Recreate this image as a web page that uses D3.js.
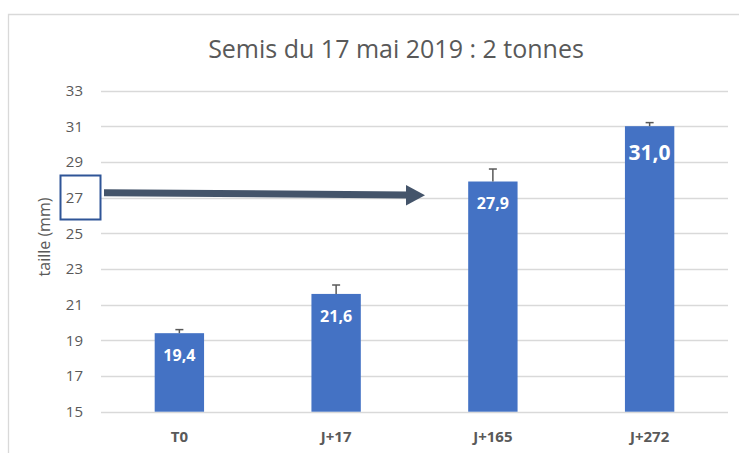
<!DOCTYPE html>
<html>
<head>
<meta charset="utf-8">
<script src="https://cdn.jsdelivr.net/npm/d3@7"></script>
<style>
  body { margin: 0; background: #fff; }
  text { font-family: "Open Sans", sans-serif; }
</style>
</head>
<body>
<script>
// Semis du 17 mai 2019 : 2 tonnes - bar chart with error bars

const categories = ["T0", "J+17", "J+165", "J+272"];
const tailles = [19.4, 21.6, 27.9, 31.0];
const erreurs = [0.2, 0.5, 0.7, 0.2];
const yTicks = [15, 17, 19, 21, 23, 25, 27, 29, 31, 33];

const width = 739, height = 453;
const margin = {top: 90.5, right: 11, bottom: 41.3, left: 101};

const svg = d3.select("body").append("svg")
    .attr("width", width)
    .attr("height", height);

// chart frame (left + top border)
svg.append("path")
    .attr("d", "M8.5,453 V14.5 H739")
    .attr("fill", "none")
    .attr("stroke", "#d9d9d9")
    .attr("stroke-width", 1.3);

const x = d3.scaleBand()
    .domain(categories)
    .range([margin.left, width - margin.right])
    .paddingInner(0.685)
    .paddingOuter(0.3425);

const y = d3.scaleLinear()
    .domain([15, 33])
    .range([height - margin.bottom, margin.top]);

// gridlines
svg.append("g")
  .selectAll("line")
  .data(yTicks)
  .join("line")
    .attr("x1", margin.left)
    .attr("x2", width - margin.right)
    .attr("y1", d => Math.round(y(d)) + 0.5)
    .attr("y2", d => Math.round(y(d)) + 0.5)
    .attr("stroke", "#d9d9d9")
    .attr("stroke-width", 1.3);

// y axis labels
const yAxis = svg.append("g")
    .attr("transform", `translate(${margin.left - 6},0)`)
    .call(d3.axisLeft(y).tickValues(yTicks).tickSize(0).tickPadding(12));
yAxis.select(".domain").remove();
yAxis.selectAll("text")
    .attr("fill", "#595959")
    .style("font-size", "15px")
    .style("font-family", "Open Sans");

// y axis title
svg.append("text")
    .attr("transform", "translate(50,237) rotate(-90)")
    .attr("text-anchor", "middle")
    .attr("fill", "#595959")
    .style("font-size", "16px")
    .text("taille (mm)");

// bars
svg.append("g")
  .selectAll("rect")
  .data(tailles)
  .join("rect")
    .attr("x", (d, i) => x(categories[i]))
    .attr("width", x.bandwidth())
    .attr("y", d => y(d))
    .attr("height", d => y(15) - y(d))
    .attr("fill", "#4472c4");

// error bars
const eb = svg.append("g")
    .attr("stroke", "#595959")
    .attr("stroke-width", 1.5);
tailles.forEach((d, i) => {
  const cx = x(categories[i]) + x.bandwidth() / 2;
  eb.append("line")
      .attr("x1", cx).attr("x2", cx)
      .attr("y1", y(d)).attr("y2", y(d + erreurs[i]));
  eb.append("line")
      .attr("x1", cx - 4).attr("x2", cx + 4)
      .attr("y1", y(d + erreurs[i])).attr("y2", y(d + erreurs[i]));
});

// value labels
svg.append("g")
  .selectAll("text")
  .data(tailles)
  .join("text")
    .attr("x", (d, i) => x(categories[i]) + x.bandwidth() / 2)
    .attr("y", (d, i) => y(d) + (i === 3 ? 26 : 22))
    .attr("dy", "0.35em")
    .attr("text-anchor", "middle")
    .attr("fill", "#fff")
    .style("font-weight", "bold")
    .style("font-size", (d, i) => i === 3 ? "21px" : "16px")
    .text(d => d.toFixed(1).replace(".", ","));

// x axis labels
svg.append("g")
  .selectAll("text")
  .data(categories)
  .join("text")
    .attr("x", d => x(d) + x.bandwidth() / 2)
    .attr("y", 437)
    .attr("dy", "0.35em")
    .attr("text-anchor", "middle")
    .attr("fill", "#595959")
    .style("font-weight", "bold")
    .style("font-size", "15px")
    .text(d => d);

// title
svg.append("text")
    .attr("x", 396)
    .attr("y", 49)
    .attr("dy", "0.35em")
    .attr("text-anchor", "middle")
    .attr("fill", "#595959")
    .style("font-size", "25px")
    .text("Semis du 17 mai 2019 : 2 tonnes");

// highlight box around 27
svg.append("rect")
    .attr("x", 60.5)
    .attr("y", 175.5)
    .attr("width", 40)
    .attr("height", 44)
    .attr("fill", "none")
    .attr("stroke", "#2f5597")
    .attr("stroke-width", 2);

// arrow
svg.append("line")
    .attr("x1", 104).attr("y1", 192.7)
    .attr("x2", 408).attr("y2", 195)
    .attr("stroke", "#44546a")
    .attr("stroke-width", 7);
svg.append("path")
    .attr("d", "M406,185 L425,195.2 L406,205.5 Z")
    .attr("fill", "#44546a");
</script>
</body>
</html>
